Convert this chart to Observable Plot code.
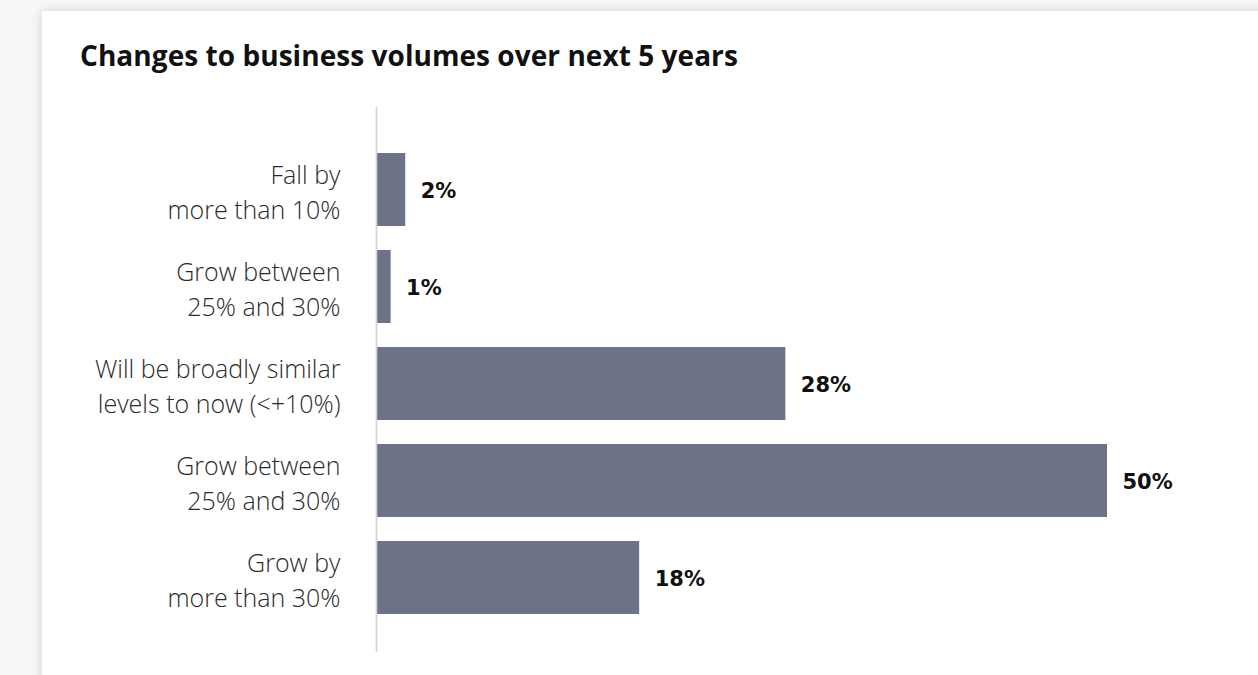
<!DOCTYPE html>
<html>
<head>
<meta charset="utf-8">
<script src="https://cdn.jsdelivr.net/npm/d3@7"></script>
<script src="https://cdn.jsdelivr.net/npm/@observablehq/plot@0.6"></script>
<style>
  html, body { margin: 0; padding: 0; background: #f7f7f8; overflow: hidden; width: 1258px; height: 675px; }
  #card {
    position: absolute; left: 42px; top: 11px; width: 1250px; height: 700px;
    background: #fff; box-shadow: 0 0 10px rgba(0,0,0,0.16);
  }
  #title {
    position: absolute; left: 38px; top: 25px;
    font-family: "Open Sans", sans-serif; font-weight: 700; font-size: 28px; color: #111;
    letter-spacing: 0.05px; white-space: nowrap;
  }
  #chart { position: absolute; left: 0; top: 0; }
</style>
</head>
<body>
<div id="card">
  <div id="title">Changes to business volumes over next 5 years</div>
  <div id="chart"></div>
</div>
<script>
const categories = [
  "Fall by\nmore than 10%",
  "Grow between\n25% and 30%",
  "Will be broadly similar\nlevels to now (<+10%)",
  "Grow between\n25% and 30%",
  "Grow by\nmore than 30%"
];
const values = [2, 1, 28, 50, 18];
const valueLabels = ["2%", "1%", "28%", "50%", "18%"];

const data = categories.map((c, i) => ({id: i, category: c, value: values[i], label: valueLabels[i]}));
const ids = data.map(d => d.id);

const chart = Plot.plot({
  width: 1216,
  height: 664,
  marginLeft: 334,
  marginRight: 151,
  marginTop: 100,
  marginBottom: 20,
  style: {background: "transparent", overflow: "visible"},
  x: {domain: [0, 50], axis: null},
  y: {domain: ids, axis: null, paddingInner: 0.25, paddingOuter: 0.42},
  marks: [
    Plot.barX(data, {x: "value", y: "id", fill: "#6e7288"}),
    Plot.ruleX([0], {stroke: "#d2d2da", strokeWidth: 1.6, insetTop: -4, insetBottom: 3}),
    Plot.text(data, {
      x: 0, y: "id", text: "category", textAnchor: "end", dx: -36, dy: 0,
      lineHeight: 1.4, fontSize: 25, fontWeight: 300, fill: "#2a2a2a",
      fontFamily: "'Open Sans', sans-serif", letterSpacing: "-0.6px"
    }),
    Plot.text(data, {
      x: "value", y: "id", text: "label", textAnchor: "start", dx: 15, dy: 1,
      fontSize: 21, fontWeight: 700, fill: "#111", fontFamily: "'DejaVu Sans', sans-serif"
    })
  ]
});
document.getElementById("chart").appendChild(chart);
</script>
</body>
</html>
